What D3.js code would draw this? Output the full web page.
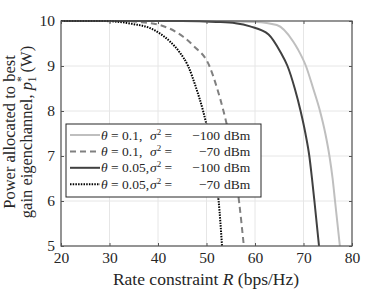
<!DOCTYPE html>
<html>
<head>
<meta charset="utf-8">
<script src="https://cdn.jsdelivr.net/npm/d3@7"></script>
<style>
  body { margin: 0; background: #fff; }
  svg text { font-family: "Liberation Serif"; fill: #262626; }
</style>
</head>
<body>
<svg id="chart" width="388" height="291"></svg>
<script>
// values: rate R (bps/Hz) vs allocated power p1* (W)
const xTicks = [20, 30, 40, 50, 60, 70, 80];
const yTicks = [5, 6, 7, 8, 9, 10];

const light_R = [20, 50, 60, 64.5, 67.9, 68.9, 70.5, 72.0, 73.4, 74.5, 75.35, 76.0, 76.5, 77.5];
const light_p = [10, 10, 9.98, 9.91, 9.54, 9.36, 9.0, 8.5, 8.0, 7.5, 7.0, 6.5, 6.0, 5.0];

const dashed_R = [20, 32, 36, 40.4, 45.2, 47.3, 50.6, 52.2, 53.5, 54.6, 55.5, 56.1, 56.7, 57.7];
const dashed_p = [10, 10, 9.98, 9.91, 9.65, 9.45, 9.0, 8.5, 8.0, 7.5, 7.0, 6.5, 6.0, 5.0];

const dark_R = [20, 45, 52, 56, 59, 62.8, 65.3, 66.7, 68.2, 69.4, 70.4, 71.2, 71.75, 72.25, 73.2];
const dark_p = [10, 10, 9.98, 9.95, 9.88, 9.7, 9.3, 9.0, 8.5, 8.0, 7.5, 7.0, 6.5, 6.0, 5.0];

const dotted_R = [20, 28, 32, 35, 38.4, 42.5, 44.5, 46.2, 47.9, 49.3, 50.4, 51.3, 51.9, 52.5, 53.2];
const dotted_p = [10, 10, 9.98, 9.93, 9.84, 9.54, 9.3, 9.0, 8.5, 8.0, 7.5, 7.0, 6.5, 6.0, 5.0];

const thetas = ["0.1,", "0.1,", "0.05,", "0.05,"];
const sigmas = ["\u2212100", "\u221270", "\u2212100", "\u221270"];

const series = [
  { R: light_R, p: light_p, color: "#bfbfbf", dash: null, width: 2 },
  { R: dashed_R, p: dashed_p, color: "#808080", dash: "6,4", width: 2 },
  { R: dark_R, p: dark_p, color: "#404040", dash: null, width: 2 },
  { R: dotted_R, p: dotted_p, color: "#000000", dash: "1.5,1.2", width: 2 }
];

const FONT = "Liberation Serif";
const margin = { left: 61, right: 36, top: 21, bottom: 45 };
const W = 388, H = 291;
const svg = d3.select("#chart");

const x = d3.scaleLinear().domain([20, 80]).range([margin.left, W - margin.right]);
const y = d3.scaleLinear().domain([5, 10]).range([H - margin.bottom, margin.top]);

// grid
svg.append("g").selectAll("line").data(xTicks).join("line")
  .attr("x1", d => x(d)).attr("x2", d => x(d))
  .attr("y1", y(5)).attr("y2", y(10))
  .attr("stroke", "#e6e6e6").attr("stroke-width", 1);
svg.append("g").selectAll("line").data(yTicks).join("line")
  .attr("x1", x(20)).attr("x2", x(80))
  .attr("y1", d => y(d)).attr("y2", d => y(d))
  .attr("stroke", "#e6e6e6").attr("stroke-width", 1);

// curves
const line = d3.line().curve(d3.curveMonotoneX);
series.forEach(s => {
  const pts = s.R.map((r, i) => [x(r), y(s.p[i])]);
  svg.append("path")
    .attr("d", line(pts))
    .attr("fill", "none")
    .attr("stroke", s.color)
    .attr("stroke-width", s.width)
    .attr("stroke-dasharray", s.dash);
});

// axes (ticks inward, box)
const tickLen = 3;
const fmt = d3.format("d");
const xb = svg.append("g").attr("transform", `translate(0,${y(5)})`)
  .call(d3.axisBottom(x).tickValues(xTicks).tickSize(-tickLen).tickPadding(6).tickFormat(fmt));
const xt = svg.append("g").attr("transform", `translate(0,${y(10)})`)
  .call(d3.axisTop(x).tickValues(xTicks).tickSize(-tickLen).tickFormat(""));
const yl = svg.append("g").attr("transform", `translate(${x(20)},0)`)
  .call(d3.axisLeft(y).tickValues(yTicks).tickSize(-tickLen).tickPadding(6).tickFormat(fmt));
const yr = svg.append("g").attr("transform", `translate(${x(80)},0)`)
  .call(d3.axisRight(y).tickValues(yTicks).tickSize(-tickLen).tickFormat(""));
[xb, xt, yl, yr].forEach(g => {
  g.attr("font-family", FONT);
  g.selectAll("path").remove();
  g.selectAll("line").attr("stroke", "#555");
  g.selectAll("text").attr("font-size", 15.5).attr("fill", "#262626");
});
svg.append("rect")
  .attr("x", x(20)).attr("y", y(10))
  .attr("width", x(80) - x(20)).attr("height", y(5) - y(10))
  .attr("fill", "none").attr("stroke", "#555").attr("stroke-width", 1.2);

// x label
const xl = svg.append("text")
  .attr("x", 206).attr("y", 285)
  .attr("text-anchor", "middle").attr("font-size", 17.5);
xl.append("tspan").text("Rate constraint ");
xl.append("tspan").attr("font-style", "italic").text("R");
xl.append("tspan").text(" (bps/Hz)");

// y label (two lines)
const ycy = 132;
svg.append("text")
  .attr("transform", `translate(15,${ycy}) rotate(-90)`)
  .attr("text-anchor", "middle").attr("font-size", 16.5)
  .text("Power allocated to best");
const yl2 = svg.append("text")
  .attr("transform", `translate(32,${ycy}) rotate(-90)`)
  .attr("text-anchor", "middle").attr("font-size", 16.5);
yl2.append("tspan").text("gain eigenchannel, ");
yl2.append("tspan").attr("font-style", "italic").text("p");
yl2.append("tspan").attr("font-size", 11.5).attr("dy", -7).text("*");
yl2.append("tspan").attr("font-size", 11.5).attr("dx", -6).attr("dy", 11).text("1");
yl2.append("tspan").attr("dy", -4).text(" (W)");

// legend
const lg = svg.append("g");
lg.append("rect")
  .attr("x", 66).attr("y", 124).attr("width", 195).attr("height", 73)
  .attr("fill", "#fff").attr("stroke", "#262626").attr("stroke-width", 1);
series.forEach((s, i) => {
  const ry = 135 + i * 16.4;
  const fs = 13.5;
  lg.append("line")
    .attr("x1", 70).attr("x2", 100).attr("y1", ry).attr("y2", ry)
    .attr("stroke", s.color).attr("stroke-width", s.width)
    .attr("stroke-dasharray", s.dash);
  const t = lg.append("text").attr("y", ry + 4.5).attr("font-size", fs);
  t.append("tspan").attr("x", 101).attr("font-style", "italic").text("\u03b8");
  t.append("tspan").text(" = " + thetas[i]);
  const t2 = lg.append("text").attr("y", ry + 4.5).attr("font-size", fs);
  t2.append("tspan").attr("x", 150).attr("font-style", "italic").text("\u03c3");
  t2.append("tspan").attr("font-size", 9).attr("dy", -5).text("2");
  t2.append("tspan").attr("dy", 5).text(" =");
  lg.append("text").attr("x", 220).attr("y", ry + 4.5).attr("font-size", fs)
    .attr("text-anchor", "end").text(sigmas[i]);
  lg.append("text").attr("x", 224).attr("y", ry + 4.5).attr("font-size", fs)
    .text("dBm");
});
</script>
</body>
</html>
